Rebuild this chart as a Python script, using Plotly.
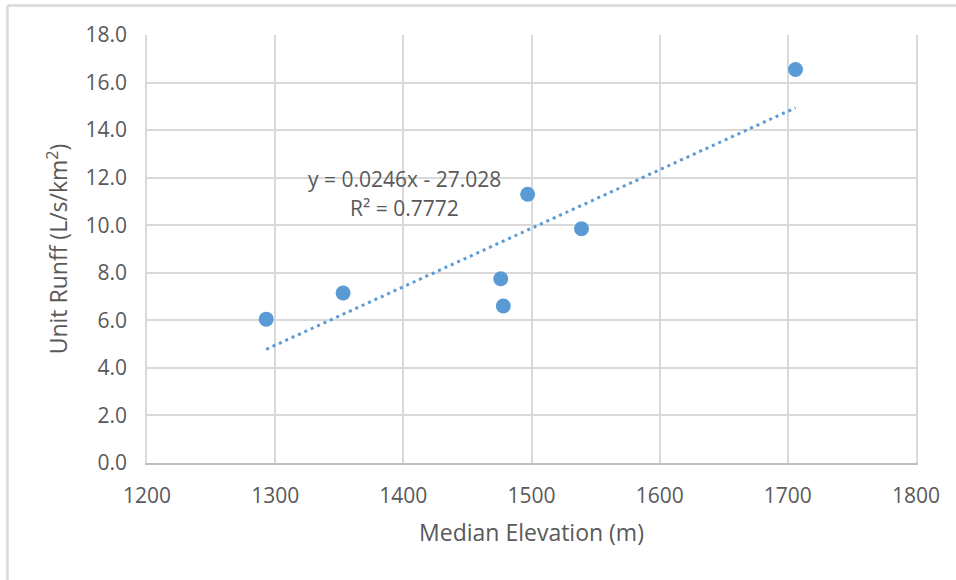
import plotly.graph_objects as go

# Data
elevation = [1293, 1353, 1476, 1478, 1497, 1539, 1706]
unit_runoff = [6.05, 7.15, 7.75, 6.6, 11.3, 9.85, 16.55]

# Linear trendline shown on the chart
slope = 0.0246
intercept = -27.028
r_squared = 0.7772

x_ticks = [1200, 1300, 1400, 1500, 1600, 1700, 1800]
y_ticks = [0, 2, 4, 6, 8, 10, 12, 14, 16, 18]

BLUE = "#5B9BD5"
TEXT = "#595959"
GRID = "#d9d9d9"
FONT = "Open Sans"

W, H = 956, 580
ML, MR, MT, MB = 147, 40, 35, 117

trend_x = [min(elevation), max(elevation)]
trend_y = [slope * v + intercept for v in trend_x]

fig = go.Figure()
fig.add_trace(go.Scatter(
    x=trend_x, y=trend_y, mode="lines",
    line=dict(color=BLUE, width=3, dash="3px,4px"),
    hoverinfo="skip", showlegend=False,
))
fig.add_trace(go.Scatter(
    x=elevation, y=unit_runoff, mode="markers",
    marker=dict(color=BLUE, size=15, line=dict(width=0)),
    showlegend=False,
))

pw = W - ML - MR
ph = H - MT - MB
# chart outer border (left and top edges visible)
fig.add_shape(type="line", xref="paper", yref="paper",
              x0=(7.5 - ML) / pw, x1=(W - ML) / pw,
              y0=1 + (MT - 5.5) / ph, y1=1 + (MT - 5.5) / ph,
              line=dict(color="#d9d9d9", width=2.5))
fig.add_shape(type="line", xref="paper", yref="paper",
              x0=(7.5 - ML) / pw, x1=(7.5 - ML) / pw,
              y0=1 + (MT - 5.5) / ph, y1=-(MB) / ph,
              line=dict(color="#d9d9d9", width=2.5))

sign = "-" if intercept < 0 else "+"
fig.add_annotation(
    x=1401, y=11.94, xref="x", yref="y",
    text=f"y = {slope}x {sign} {abs(intercept):.3f}",
    showarrow=False, font=dict(family=FONT, size=21, color=TEXT),
    align="center", yanchor="middle",
)
fig.add_annotation(
    x=1401, y=10.72, xref="x", yref="y",
    text=f"R² = {r_squared}",
    showarrow=False, font=dict(family=FONT, size=21, color=TEXT),
    align="center", yanchor="middle",
)

fig.update_layout(
    width=W, height=H,
    margin=dict(l=ML, r=MR, t=MT, b=MB),
    paper_bgcolor="white", plot_bgcolor="white",
    font=dict(family=FONT, color=TEXT, size=21),
    xaxis=dict(
        range=[1200, 1800], tickvals=x_ticks, ticktext=[str(v) for v in x_ticks],
        showgrid=True, gridcolor=GRID, gridwidth=1.5,
        showline=True, linecolor="#bfbfbf", linewidth=1.5,
        zeroline=False, ticks="", ticklabelstandoff=13,
        title=dict(text="Median Elevation (m)", font=dict(size=23, color=TEXT), standoff=17),
    ),
    yaxis=dict(
        range=[0, 18], tickvals=y_ticks, ticktext=[f"{v:.1f}" for v in y_ticks],
        showgrid=True, gridcolor=GRID, gridwidth=1.5,
        showline=True, linecolor=GRID, linewidth=1.5, mirror=True,
        zeroline=False, ticks="", ticklabelstandoff=14,
        title=dict(text="Unit Runff (L/s/km<sup>2</sup>)", font=dict(size=23, color=TEXT), standoff=11),
    ),
)

fig.write_html(
    "out.html",
    config={"displayModeBar": False},
    post_script="document.body.style.margin='0';document.body.style.overflow='hidden';",
)
